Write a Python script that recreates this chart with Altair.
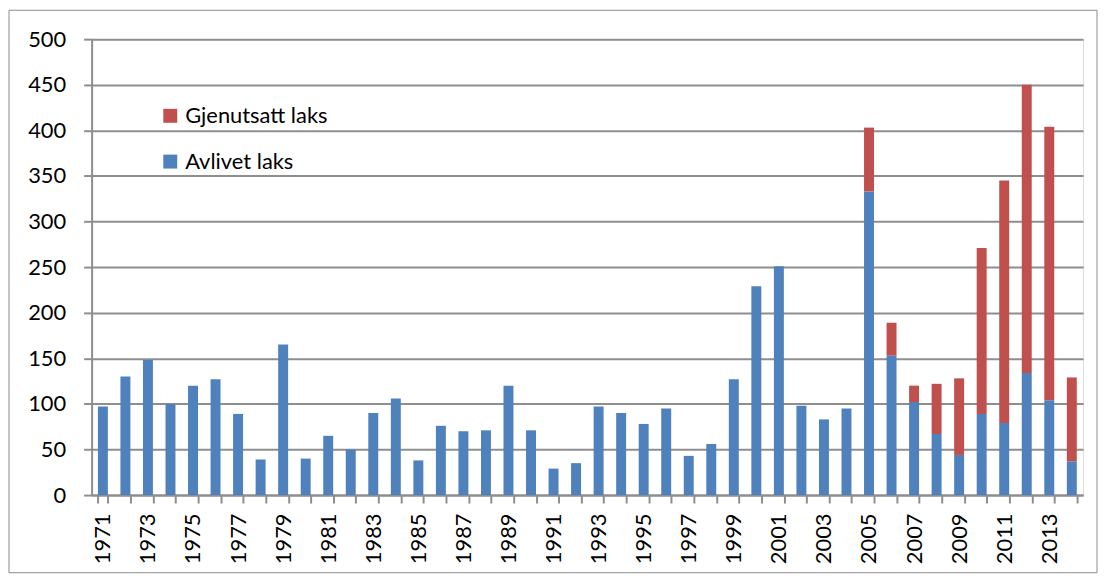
import altair as alt
import pandas as pd

years = list(range(1971, 2015))
avlivet = [97, 130, 148, 100, 120, 127, 89, 39, 165, 40,
           65, 50, 90, 106, 38, 76, 70, 71, 120, 71,
           29, 35, 97, 90, 78, 95, 43, 56, 127, 229,
           251, 98, 83, 95, 333, 153, 102, 67, 44, 89,
           79, 134, 104, 37]
gjenutsatt = [0] * 34 + [70, 36, 18, 55, 84, 182, 266, 316, 300, 92]

series_names = ["Gjenutsatt laks", "Avlivet laks"]
series_colors = ["#C0504D", "#4F81BD"]

rows = []
for y, a, g in zip(years, avlivet, gjenutsatt):
    rows.append({"year": str(y), "serie": "Avlivet laks", "value": a, "ord": 0})
    rows.append({"year": str(y), "serie": "Gjenutsatt laks", "value": g, "ord": 1})
df = pd.DataFrame(rows)

FONT = "Lato"
GRID = "#8e8e8e"

bars = alt.Chart(df).mark_bar(size=10).encode(
    x=alt.X("year:N", sort=[str(y) for y in years],
            scale=alt.Scale(paddingInner=0.55, paddingOuter=0.275),
            axis=alt.Axis(title=None, labelAngle=270, labelFontSize=22,
                          labelExpr="parseInt(datum.value) % 2 == 1 ? datum.label : ''",
                          tickBand="extent", tickSize=8, labelPadding=10,
                          domainColor=GRID, domainWidth=2, tickColor=GRID, tickWidth=2,
                          labelColor="#000000", labelFont=FONT, labelBaseline="middle",
                          labelAlign="right")),
    y=alt.Y("value:Q", stack="zero",
            scale=alt.Scale(domain=[0, 500], nice=False),
            axis=alt.Axis(title=None, values=list(range(0, 501, 50)), tickSize=8,
                          labelPadding=18, labelFontSize=22, labelFont=FONT,
                          labelColor="#000000", gridColor=GRID, gridWidth=2,
                          domainColor=GRID, domainWidth=2, tickColor=GRID, tickWidth=2)),
    color=alt.Color("serie:N",
                    scale=alt.Scale(domain=series_names, range=series_colors),
                    legend=alt.Legend(title=None, orient="none", legendX=68, legendY=66,
                                      symbolType="square", symbolSize=196,
                                      symbolStrokeWidth=0, labelFontSize=22,
                                      labelFont=FONT, labelColor="#000000",
                                      rowPadding=24, padding=0, labelOffset=4)),
    order=alt.Order("ord:Q", sort="ascending"),
)

border = alt.Chart(pd.DataFrame({"a": [0]})).mark_rect(
    fill=None, stroke="#8c8c8c", strokeWidth=1
).encode(x=alt.value(-83), x2=alt.value(1010), y=alt.value(-29), y2=alt.value(536))

chart = alt.layer(bars, border).properties(
    width=996, height=458,
    autosize=alt.AutoSizeParams(type="none"),
    padding={"left": 84, "top": 30, "right": 16, "bottom": 78},
).configure_view(stroke=None).configure(background="#ffffff")

chart.save("out.html", embed_options={"renderer": "svg", "actions": False})
